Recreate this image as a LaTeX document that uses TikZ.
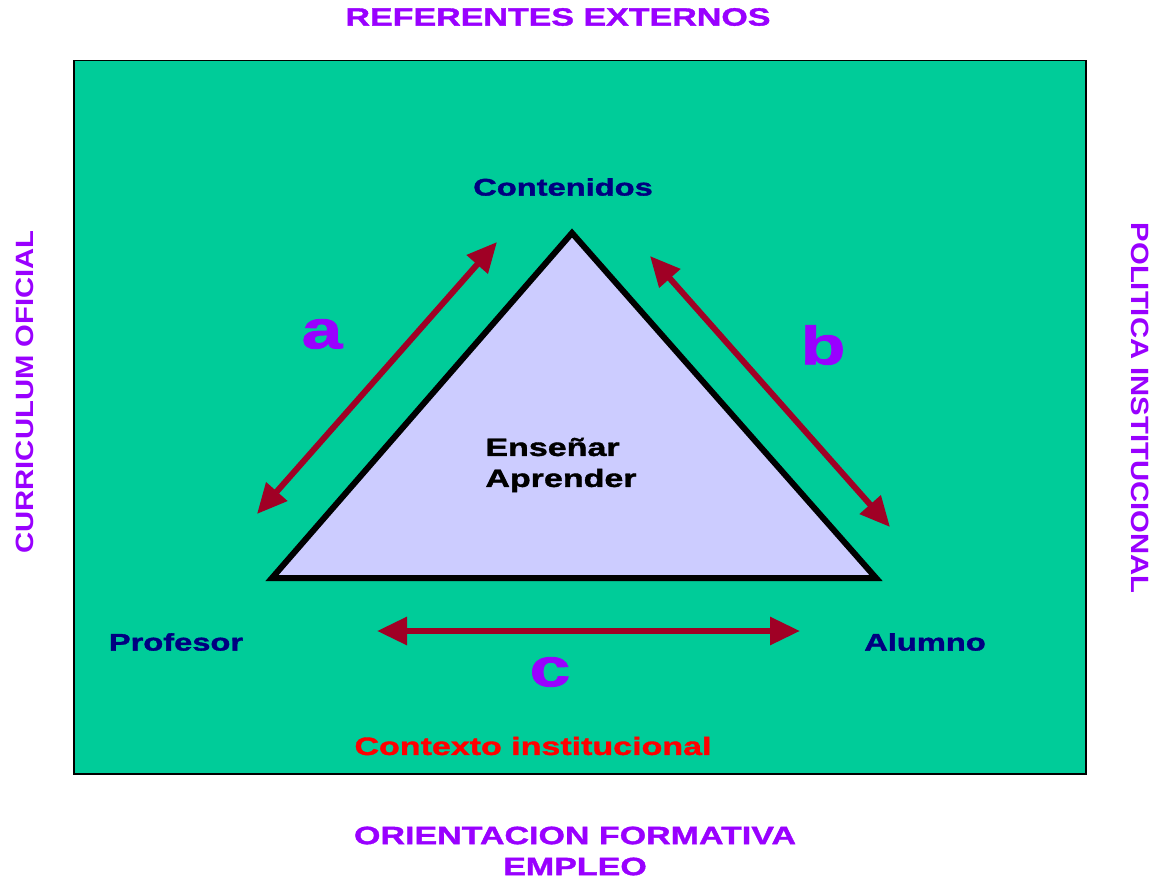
\documentclass[tikz,border=0pt]{standalone}
\usepackage{fontspec}
\setmainfont{Liberation Sans}
\newfontfamily\ancha[FakeStretch=1.36,FakeBold=1.5]{Liberation Sans}
\newfontfamily\media[FakeStretch=1.17]{Liberation Sans}
\usetikzlibrary{arrows.meta}
\definecolor{fondo}{HTML}{00CC99}
\definecolor{lila}{HTML}{CCCCFF}
\definecolor{morado}{HTML}{9900FF}
\definecolor{azul}{HTML}{000080}
\definecolor{granate}{HTML}{A00025}
\begin{document}
\begin{tikzpicture}[x=1pt,y=-1pt]
		\tikzset{ref/.style={text=morado,font=\ancha\bfseries\fontsize{25}{27}\selectfont},
			lado/.style={text=morado,font=\media\bfseries\fontsize{25}{27}\selectfont},
			pol/.style={text=azul,font=\ancha\bfseries\fontsize{24}{26}\selectfont},
			let/.style={text=morado,font=\ancha\bfseries\fontsize{54}{56}\selectfont},
			com/.style={{Triangle[length=30pt,width=27pt]}-{Triangle[length=30pt,width=27pt]},draw=granate,fill=granate,line width=6pt}}
		\useasboundingbox (0,0) rectangle (1163,880);
		\node[draw,fill=fondo,line width=1.5pt,minimum width=1012pt,minimum height=713pt,anchor=north west,inner sep=0pt] (m) at (73,60) {};
		\draw[fill=lila,line width=6pt,line join=miter] (572,233) coordinate (t) -- (272,578) coordinate (p) -- (876,578) coordinate (q) -- cycle;

		\node[ref] (re) at (558,17) {REFERENTES EXTERNOS};
		\node[ref,align=center,font=\ancha\bfseries\fontsize{25}{31}\selectfont] (of) at (575,851) {ORIENTACION FORMATIVA\\EMPLEO};
		\node[lado,rotate=90] (co) at (25,392) {CURRICULUM OFICIAL};
		\node[lado,rotate=-90] (pi) at (1140,408) {POLITICA INSTITUCIONAL};

		\node[pol] (cn) at (563,187) {Contenidos};
		\node[pol] (pr) at (176,642) {Profesor};
		\node[pol] (al) at (925,642) {Alumno};
		\node[align=left,font=\ancha\bfseries\fontsize{25}{31}\selectfont] (ea) at (561,465) {Enseñar\\Aprender};
		\node[text=red,font=\ancha\bfseries\fontsize{25}{27}\selectfont] (ci) at (533,746) {Contexto institucional};

		\node[let] (a) at (322,334) {a};
		\node[let] (b) at (823,345) {b};
		\node[let] (c) at (550,672) {c};

		\coordinate (a1) at (257,514); \coordinate (a2) at (497,242);
		\coordinate (b1) at (650,256); \coordinate (b2) at (890,527);
		\coordinate (c1) at (377,631); \coordinate (c2) at (800,631);
		\draw[com] (a1) -- (a2);
		\draw[com] (b1) -- (b2);
		\draw[com] (c1) -- (c2);
\end{tikzpicture}
\end{document}
